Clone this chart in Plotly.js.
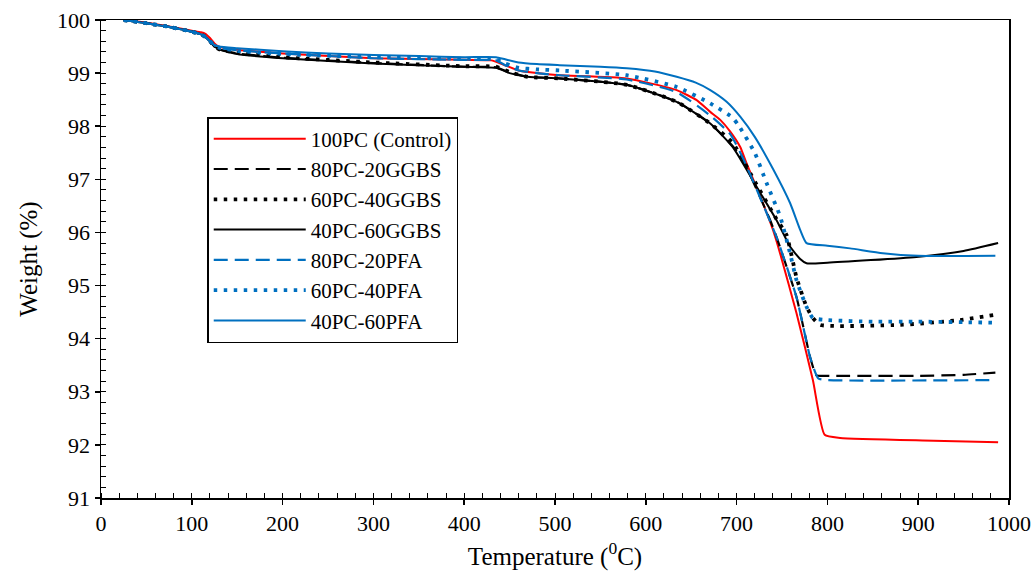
<!DOCTYPE html>
<html>
<head>
<meta charset="utf-8">
<script src="https://cdn.plot.ly/plotly-3.0.1.min.js"></script>
<style>html,body{margin:0;padding:0;background:#fff;}#chart{width:1035px;height:577px;}</style>
</head>
<body>
<div id="chart"></div>
<script>
// Series names
const seriesNames = ["100PC (Control)", "80PC-20GGBS", "60PC-40GGBS", "40PC-60GGBS", "80PC-20PFA", "60PC-40PFA", "40PC-60PFA"];

// 100PC (Control)
const tRed = [25,50,75,100,110,115,120,125,130,150,200,300,400,430,440,460,480,505,579,634,656,671,682,693,704,711,729,740,748,766,784,797,814,917,988];
const wRed = [100,99.95,99.88,99.8,99.77,99.74,99.66,99.56,99.5,99.44,99.37,99.28,99.25,99.24,99.18,99.05,99.0,98.96,98.9,98.68,98.49,98.27,98.12,97.9,97.61,97.3,96.55,96.05,95.6,94.48,93.22,92.19,92.13,92.08,92.05];

// 80PC-20GGBS
const tGg20 = [25,50,75,100,110,115,120,125,130,150,200,300,400,435,450,470,505,579,634,671,696,707,737,744,766,781,788,800,900,950,985];
const wGg20 = [100,99.94,99.87,99.78,99.73,99.68,99.6,99.5,99.45,99.37,99.29,99.19,99.12,99.11,99.01,98.93,98.9,98.78,98.46,98.05,97.62,97.36,96.23,95.91,94.78,93.65,93.31,93.3,93.3,93.32,93.36];

// 60PC-40GGBS
const tGg40 = [25,50,75,100,110,115,120,125,130,150,200,300,400,435,450,470,505,579,634,671,696,722,744,755,766,777,784,792,880,946,985];
const wGg40 = [100,99.94,99.87,99.78,99.73,99.68,99.6,99.5,99.45,99.38,99.3,99.2,99.13,99.12,99.02,98.93,98.9,98.78,98.46,98.05,97.68,96.9,96.25,95.95,95.15,94.6,94.39,94.26,94.26,94.35,94.45];

// 40PC-60GGBS
const tGg60 = [25,50,75,100,110,115,120,125,130,150,200,300,400,435,450,470,505,579,634,671,696,722,744,759,770,777,800,898,950,988];
const wGg60 = [100,99.94,99.87,99.78,99.73,99.68,99.6,99.5,99.45,99.36,99.28,99.18,99.12,99.1,99.0,98.93,98.9,98.78,98.46,98.05,97.6,96.86,96.23,95.73,95.5,95.42,95.43,95.54,95.65,95.8];

// 80PC-20PFA
const tPf20 = [25,50,75,100,110,115,120,125,130,150,200,300,400,435,445,460,480,505,579,634,671,693,707,744,766,781,790,800,985];
const wPf20 = [100,99.94,99.87,99.78,99.73,99.68,99.6,99.52,99.48,99.43,99.37,99.28,99.25,99.24,99.15,99.05,99.0,98.96,98.88,98.64,98.2,97.85,97.4,95.91,94.78,93.65,93.25,93.22,93.22];

// 60PC-40PFA
const tPf40 = [25,50,75,100,110,115,120,125,130,150,200,300,400,435,445,460,480,505,579,634,671,695,702,720,733,748,759,766,777,784,800,850,900,950,985];
const wPf40 = [100,99.94,99.87,99.78,99.73,99.68,99.6,99.52,99.48,99.42,99.36,99.3,99.27,99.26,99.18,99.1,99.07,99.05,98.96,98.74,98.43,98.17,98.02,97.5,96.93,96.3,95.6,95.1,94.6,94.39,94.35,94.32,94.32,94.31,94.3];

// 40PC-60PFA
const tPf60 = [25,50,75,100,110,115,120,125,130,150,200,250,300,350,400,435,445,460,480,505,550,579,610,634,655,671,689,704,720,740,759,770,777,800,825,861,900,985];
const wPf60 = [100,99.94,99.87,99.78,99.73,99.68,99.6,99.53,99.5,99.47,99.41,99.37,99.34,99.32,99.3,99.3,99.26,99.2,99.17,99.15,99.12,99.09,99.03,98.93,98.82,98.68,98.46,98.18,97.8,97.2,96.55,96.05,95.8,95.75,95.7,95.61,95.56,95.56];

// Axis ticks
const xTicks = [0,100,200,300,400,500,600,700,800,900,1000];
const yTicks = [91,92,93,94,95,96,97,98,99,100];

const RED = "#FF0000", BLK = "#000000", BLU = "#0070C0";
const DASH = "14px,7px", DOT = "3.5px,6.5px";

const traces = [
  {x: tRed, y: wRed, name: seriesNames[0], line: {color: RED, width: 2}},
  {x: tGg20, y: wGg20, name: seriesNames[1], line: {color: BLK, width: 2.2, dash: DASH}},
  {x: tGg40, y: wGg40, name: seriesNames[2], line: {color: BLK, width: 3.8, dash: DOT}},
  {x: tGg60, y: wGg60, name: seriesNames[3], line: {color: BLK, width: 2}},
  {x: tPf20, y: wPf20, name: seriesNames[4], line: {color: BLU, width: 2.2, dash: DASH}},
  {x: tPf40, y: wPf40, name: seriesNames[5], line: {color: BLU, width: 3.8, dash: DOT}},
  {x: tPf60, y: wPf60, name: seriesNames[6], line: {color: BLU, width: 2}}
].map(t => Object.assign({type: "scatter", mode: "lines"}, t));
traces.forEach(t => { t.line.shape = "spline"; t.line.smoothing = 0.5; });

const FONT = "'Liberation Serif', 'Times New Roman', serif";

const layout = {
  width: 1035, height: 577,
  margin: {l: 101, r: 26, t: 20, b: 79},
  paper_bgcolor: "#fff", plot_bgcolor: "#fff",
  font: {family: FONT, size: 22, color: "#000"},
  showlegend: true,
  legend: {
    x: 0.117, y: 0.797, xanchor: "left", yanchor: "top",
    bgcolor: "#fff", bordercolor: "#000", borderwidth: 1.5,
    font: {family: FONT, size: 21, color: "#000"},
    itemwidth: 92,
    tracegroupgap: 0
  },
  xaxis: {
    range: [0, 1000], tickvals: xTicks, ticktext: xTicks.map(String),
    showline: true, mirror: true, linecolor: "#000", linewidth: 1.5,
    ticks: "outside", ticklen: 5, tickwidth: 1.5, tickcolor: "#000",
    minor: {dtick: 20, ticks: "inside", ticklen: 5, tickwidth: 1, tickcolor: "#000"},
    showgrid: false, zeroline: false,
    tickfont: {family: FONT, size: 22},
    title: {text: "Temperature (<sup>0</sup>C)", font: {family: FONT, size: 25}, standoff: 12}
  },
  yaxis: {
    range: [91, 100], tickvals: yTicks, ticktext: yTicks.map(String),
    showline: true, mirror: true, linecolor: "#000", linewidth: 1.5,
    ticks: "outside", ticklen: 5, tickwidth: 1.5, tickcolor: "#000",
    minor: {dtick: 0.2, tick0: 91, ticks: "inside", ticklen: 5, tickwidth: 1, tickcolor: "#000"},
    showgrid: false, zeroline: false,
    tickfont: {family: FONT, size: 22},
    title: {text: "Weight (%)", font: {family: FONT, size: 25}, standoff: 12}
  }
};

Plotly.newPlot("chart", traces, layout, {displayModeBar: false, staticPlot: true});
</script>
</body>
</html>
